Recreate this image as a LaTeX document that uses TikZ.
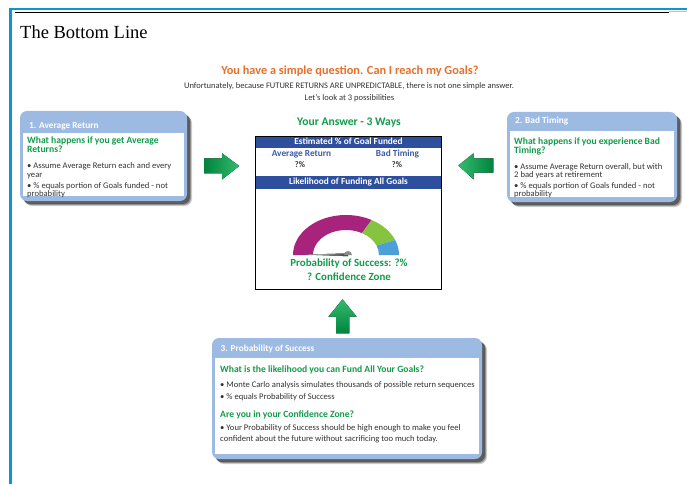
\documentclass[tikz,border=0pt]{standalone}
\usepackage{fontspec}
\setmainfont{Carlito}
\newfontfamily\seriffont{Liberation Serif}
\definecolor{hdrblue}{HTML}{9DBAE3}
\definecolor{barblue}{HTML}{2D4F9E}
\definecolor{txtgreen}{HTML}{129B4B}
\definecolor{txtblue}{HTML}{3A5BA8}
\definecolor{orangeT}{HTML}{E86F2C}
\definecolor{frameblue}{HTML}{0A96D2}
\definecolor{gmag}{HTML}{A8237B}
\definecolor{ggreen}{HTML}{86C440}
\definecolor{gblue}{HTML}{4C9FDB}
\definecolor{arrdark}{HTML}{00843C}
\definecolor{arrlight}{HTML}{34BA6E}
\definecolor{bodytxt}{HTML}{333333}
\newcommand\fs[2]{\fontsize{#1}{#2}\selectfont}
\newcommand\infobox[5]{%
  \foreach \d/\o in {5/0.18,4/0.28,3/0.38}{\fill[black,opacity=\o,rounded corners=7,shift={(\d,\d)}] (#1,#2) rectangle (#3,#4);}
  \fill[hdrblue,rounded corners=7] (#1,#2) rectangle (#3,#4);
  \fill[white] (#1+3,#5) rectangle (#3-3,#4-5);
}
\tikzset{
  hdr/.style={anchor=mid west, inner sep=0pt, text=white, font=\bfseries\fs{9.3}{11}},
  quest/.style={anchor=mid west, inner sep=0pt, text=txtgreen, font=\bfseries\fs{9.6}{11}},
  bline/.style={anchor=mid west, inner sep=0pt, text=bodytxt, font=\fs{8.6}{10}},
  ctr/.style={anchor=mid, inner sep=0pt}
}
\begin{document}
\begin{tikzpicture}[x=1pt,y=-1pt]
\useasboundingbox[fill=white] (0,0) rectangle (687,484);
% frame
\draw[frameblue, line width=2.2pt] (10.5,484) -- (10.5,9.2) -- (687,9.2);
\draw[black, line width=1pt] (15,12.2) -- (669,12.2);
\draw[frameblue!45, line width=1pt] (669,11.5) -- (687,11.5);
\node[anchor=base west, inner sep=0pt, font=\seriffont\fs{18.5}{22}] (title) at (20,38.5) {The Bottom Line};
% intro
\node[ctr, text=orangeT, font=\bfseries\fs{12.3}{14}] (head) at (350,72) {You have a simple question. Can I reach my Goals?};
\node[ctr, text=bodytxt, font=\fs{8.5}{10}] (intro1) at (349,86) {Unfortunately, because FUTURE RETURNS ARE UNPREDICTABLE, there is not one simple answer.};
\node[ctr, text=bodytxt, font=\fs{8.5}{10}] (intro2) at (349.5,98) {Let's look at 3 possibilities};
% left box
\infobox{20}{111}{187}{201}{133}
\node[hdr] (h1) at (29,126) {1. Average Return};
\node[quest] (q1a) at (27,141) {What happens if you get Average};
\node[quest] (q1b) at (27,150.5) {Returns?};
\node[bline] (b1a) at (27,166.5) {• Assume Average Return each and every};
\node[bline] (b1b) at (27,175) {year};
\node[bline] (b1c) at (27,186) {• \% equals portion of Goals funded - not};
\node[bline] (b1d) at (27,194.5) {probability};
% right box
\infobox{507}{112}{677}{202}{131}
\node[hdr] (h2) at (515,121.5) {2. Bad Timing};
\node[quest] (q2a) at (514,142.5) {What happens if you experience Bad};
\node[quest] (q2b) at (514,151) {Timing?};
\node[bline] (b2a) at (514,167) {• Assume Average Return overall, but with};
\node[bline] (b2b) at (514,175.5) {2 bad years at retirement};
\node[bline] (b2c) at (514,186) {• \% equals portion of Goals funded - not};
\node[bline] (b2d) at (514,194.5) {probability};
% bottom box
\infobox{212}{338}{482}{459}{358}
\node[hdr] (h3) at (220.5,349.5) {3. Probability of Success};
\node[quest] (q3a) at (220,370) {What is the likelihood you can Fund All Your Goals?};
\node[bline] (b3a) at (220,385) {• Monte Carlo analysis simulates thousands of possible return sequences};
\node[bline] (b3b) at (220,397.5) {• \% equals Probability of Success};
\node[quest] (q3b) at (220,415) {Are you in your Confidence Zone?};
\node[bline] (b3c) at (220,428.5) {• Your Probability of Success should be high enough to make you feel};
\node[bline] (b3d) at (220,439) {confident about the future without sacrificing too much today.};
% center panel
\node[ctr, text=txtgreen, font=\bfseries\fs{11.6}{13}] (ans) at (349,123.5) {Your Answer - 3 Ways};
\fill[barblue] (256,137) rectangle (440.5,148);
\node[ctr, text=white, font=\bfseries\fs{9.3}{11}] (est) at (348.5,142.5) {Estimated \% of Goal Funded};
\node[ctr, text=txtblue, font=\bfseries\fs{9.3}{11}] (avg) at (301.5,154) {Average Return};
\node[ctr, text=txtblue, font=\bfseries\fs{9.3}{11}] (bad) at (397.5,154) {Bad Timing};
\node[ctr, text=bodytxt, font=\bfseries\fs{8.5}{10}] (pa) at (300,165.5) {?\%};
\node[ctr, text=bodytxt, font=\bfseries\fs{8.5}{10}] (pb) at (397,165.5) {?\%};
\fill[barblue] (256,176) rectangle (440.5,189);
\node[ctr, text=white, font=\bfseries\fs{9.3}{11}] (like) at (348.5,182.5) {Likelihood of Funding All Goals};
\draw[black, line width=0.8pt] (255.5,136.6) rectangle (441,289);
% gauge
\begin{scope}[shift={(346,255)}, yscale=-1]
  \fill[gmag] (180:53 and 40) arc[start angle=180, end angle=61, x radius=53, y radius=40]
     -- (61:33 and 25) arc[start angle=61, end angle=180, x radius=33, y radius=25] -- cycle;
  \fill[ggreen] (61:53 and 40) arc[start angle=61, end angle=22, x radius=53, y radius=40]
     -- (22:33 and 25) arc[start angle=22, end angle=61, x radius=33, y radius=25] -- cycle;
  \fill[gblue] (22:53 and 40) arc[start angle=22, end angle=0, x radius=53, y radius=40]
     -- (0:33 and 25) arc[start angle=0, end angle=22, x radius=33, y radius=25] -- cycle;
  \fill[left color=black!15, right color=black!75] (-41,0.4) -- (2,1.6) -- (2,-1.2) -- cycle;
  \fill[black!45] (6,0) arc[start angle=0, end angle=180, radius=4] -- cycle;
\end{scope}
\node[ctr, text=txtgreen, font=\bfseries\fs{10.9}{12}] (prob) at (349,264) {Probability of Success: ?\%};
\node[ctr, text=txtgreen, font=\bfseries\fs{10.9}{12}] (conf) at (349,278.5) {? Confidence Zone};
% arrows
\fill[left color=arrdark, right color=arrlight] (204,158.3) -- (222,158.3) -- (222,153.3) -- (239.3,166) -- (222,179.5) -- (222,173.3) -- (204,173.3) -- cycle;
\fill[left color=arrlight, right color=arrdark] (493.3,158.3) -- (473.5,158.3) -- (473.5,153.3) -- (458.3,165.5) -- (473.5,179.3) -- (473.5,172.7) -- (493.3,172.7) -- cycle;
\fill[top color=arrlight, bottom color=arrdark] (336,333.3) -- (336,316.7) -- (328.3,316.7) -- (342.5,299.3) -- (356.7,316.7) -- (349.3,316.7) -- (349.3,333.3) -- cycle;
\end{tikzpicture}
\end{document}
